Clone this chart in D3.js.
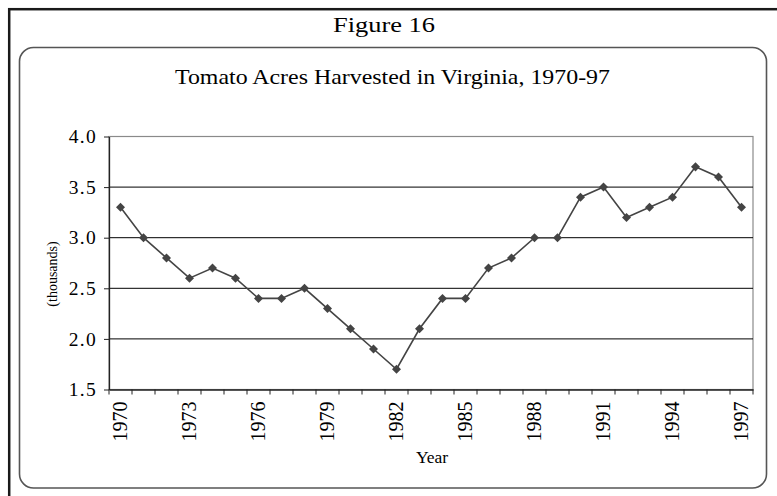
<!DOCTYPE html>
<html>
<head>
<meta charset="utf-8">
<script src="https://cdn.jsdelivr.net/npm/d3@7"></script>
<style>
  html, body { margin: 0; padding: 0; background: #fff; }
  svg { display: block; }
  text { font-family: "Liberation Serif", "Times New Roman", serif; fill: #000; }
</style>
</head>
<body>
<svg id="chart" width="777" height="496"></svg>
<script>
const years = [1970,1971,1972,1973,1974,1975,1976,1977,1978,1979,1980,1981,1982,1983,1984,1985,1986,1987,1988,1989,1990,1991,1992,1993,1994,1995,1996,1997];
const acres = [3.3,3.0,2.8,2.6,2.7,2.6,2.4,2.4,2.5,2.3,2.1,1.9,1.7,2.1,2.4,2.4,2.7,2.8,3.0,3.0,3.4,3.5,3.2,3.3,3.4,3.7,3.6,3.3];
const yTicks = [1.5,2.0,2.5,3.0,3.5,4.0];
const yearLabels = [1970,1973,1976,1979,1982,1985,1988,1991,1994,1997];
const figureTitle = "Figure 16";
const chartTitle = "Tomato Acres Harvested in Virginia, 1970-97";
const yTitle = "(thousands)";
const xTitle = "Year";

const serif = "'Liberation Serif', 'Times New Roman', serif";
const svg = d3.select("#chart");

// outer frame (cropped at right/bottom)
svg.append("rect")
  .attr("x", 9.2).attr("y", 9.2).attr("width", 800).attr("height", 520)
  .attr("fill", "none").attr("stroke", "#1a1a1a").attr("stroke-width", 2.5);

// inner rounded chart area
svg.append("rect")
  .attr("x", 19.5).attr("y", 47.5).attr("width", 747).attr("height", 440.5)
  .attr("rx", 14).attr("ry", 14)
  .attr("fill", "#fff").attr("stroke", "#555").attr("stroke-width", 1.6);

svg.append("text")
  .attr("x", 384).attr("y", 31.5)
  .attr("text-anchor", "middle")
  .attr("font-family", serif)
  .attr("font-size", 21)
  .attr("textLength", 102).attr("lengthAdjust", "spacingAndGlyphs")
  .text(figureTitle);

svg.append("text")
  .attr("x", 392.5).attr("y", 83.5)
  .attr("text-anchor", "middle")
  .attr("font-family", serif)
  .attr("font-size", 21)
  .attr("textLength", 435).attr("lengthAdjust", "spacingAndGlyphs")
  .text(chartTitle);

const plotLeft = 109, plotRight = 753, plotTop = 136.5, plotBottom = 389.5;

const x = d3.scaleBand().domain(years).range([plotLeft, plotRight]).padding(0);
const y = d3.scaleLinear().domain([1.5, 4.0]).range([plotBottom, plotTop]);

// plot border (top/right gray)
svg.append("rect")
  .attr("x", plotLeft).attr("y", plotTop).attr("width", plotRight - plotLeft).attr("height", plotBottom - plotTop)
  .attr("fill", "none").attr("stroke", "#8a8a8a").attr("stroke-width", 1.2);

// gridlines
svg.append("g").selectAll("line")
  .data(yTicks.filter(d => d > 1.5 && d < 4.0))
  .join("line")
  .attr("x1", plotLeft).attr("x2", plotRight)
  .attr("y1", d => y(d)).attr("y2", d => y(d))
  .attr("stroke", "#000").attr("stroke-width", 1);

// y axis
const yAxis = svg.append("g")
  .attr("transform", `translate(${plotLeft},0)`)
  .call(d3.axisLeft(y).tickValues(yTicks).tickFormat(d3.format(".1f")).tickSize(5).tickSizeOuter(0).tickPadding(7));
yAxis.select(".domain").attr("stroke", "#222").attr("stroke-width", 1.3);
yAxis.selectAll(".tick line").attr("stroke", "#222");
yAxis.selectAll(".tick text")
  .attr("font-family", serif)
  .attr("font-size", 19.5).attr("fill", "#000").attr("letter-spacing", 1.3);

// x axis: labels centered in categories
const xAxis = svg.append("g")
  .attr("transform", `translate(0,${plotBottom})`)
  .call(d3.axisBottom(x).tickValues(yearLabels).tickSize(0).tickSizeOuter(0).tickPadding(0));
xAxis.select(".domain").attr("stroke", "#222").attr("stroke-width", 1.3);
xAxis.selectAll(".tick text")
  .attr("font-family", serif)
  .attr("font-size", 20).attr("fill", "#000")
  .attr("text-anchor", "end")
  .attr("dy", null)
  .attr("transform", "translate(6,12) rotate(-90)");

// boundary tick marks
const boundaries = years.map(d => x(d)).concat([x(years[years.length - 1]) + x.bandwidth()]);
svg.append("g").selectAll("line")
  .data(boundaries)
  .join("line")
  .attr("x1", d => d).attr("x2", d => d)
  .attr("y1", plotBottom).attr("y2", plotBottom + 5)
  .attr("stroke", "#222").attr("stroke-width", 1);

// axis titles
svg.append("text")
  .attr("transform", `translate(57,274) rotate(-90)`)
  .attr("text-anchor", "middle")
  .attr("font-family", serif)
  .attr("font-size", 14)
  .text(yTitle);

svg.append("text")
  .attr("x", 432).attr("y", 463)
  .attr("text-anchor", "middle")
  .attr("font-family", serif)
  .attr("font-size", 17.5)
  .text(xTitle);

// line
const cx = d => x(d) + x.bandwidth() / 2;
const line = d3.line().x((d, i) => cx(years[i])).y(d => y(d));
svg.append("path")
  .datum(acres)
  .attr("d", line)
  .attr("fill", "none").attr("stroke", "#444").attr("stroke-width", 1.6);

// markers
svg.append("g").selectAll("path")
  .data(acres)
  .join("path")
  .attr("d", d3.symbol(d3.symbolDiamond2, 52))
  .attr("transform", (d, i) => `translate(${cx(years[i])},${y(d)})`)
  .attr("fill", "#444");
</script>
</body>
</html>
